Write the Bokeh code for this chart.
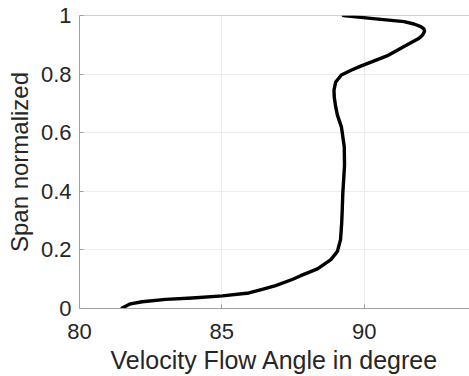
from bokeh.plotting import figure
from bokeh.models import Range1d, FixedTicker, ColumnDataSource, Span
from bokeh.embed import file_html
from bokeh.resources import INLINE

angle = [81.50, 81.79, 82.2, 83.03, 83.96, 85.02, 85.95, 86.42, 86.89, 87.47,
         87.77, 88.36, 88.83, 89.06, 89.17, 89.21, 89.23, 89.25, 89.28, 89.31,
         89.3, 89.2, 89.06, 89.0, 88.95, 88.94, 89.0, 89.2, 89.54, 89.9,
         90.24, 90.8, 91.4, 91.93, 92.06, 92.12, 92.1, 91.99, 91.75, 91.4, 90.23, 89.27]
span = [0.002, 0.016, 0.023, 0.031, 0.036, 0.043, 0.053, 0.065, 0.078, 0.099,
        0.112, 0.135, 0.167, 0.195, 0.235, 0.291, 0.337, 0.394, 0.44, 0.49,
        0.552, 0.62, 0.66, 0.688, 0.72, 0.745, 0.773, 0.797, 0.813, 0.828,
        0.841, 0.862, 0.894, 0.922, 0.934, 0.946, 0.954, 0.962, 0.971, 0.979, 0.99, 1.0]
x_ticks = [80, 85, 90]
y_ticks = [0, 0.2, 0.4, 0.6, 0.8, 1]
y_tick_labels = ["0", "0.2", "0.4", "0.6", "0.8", "1"]

FONT = "Liberation Sans"
TXT = "#262626"
AX = "#a0a0a0"

p = figure(width=469, height=376, output_backend="svg", toolbar_location=None,
           x_range=Range1d(80, 93.7), y_range=Range1d(0, 1),
           min_border_left=79, min_border_right=0, min_border_top=15, min_border_bottom=0)
p.outline_line_color = None
p.background_fill_color = "white"
p.border_fill_color = "white"

src = ColumnDataSource(data=dict(x=angle, y=span))
p.line("x", "y", source=src, line_color="black", line_width=3.4, line_join="round", line_cap="round")

for ax in (p.xaxis[0], p.yaxis[0]):
    ax.axis_line_color = AX
    ax.major_tick_line_color = AX
    ax.major_tick_in = 4
    ax.major_tick_out = 0
    ax.minor_tick_line_color = None
    ax.major_label_text_font = FONT
    ax.major_label_text_font_size = "22px"
    ax.major_label_text_color = TXT
    ax.axis_label_text_font = FONT
    ax.axis_label_text_font_style = "normal"
    ax.axis_label_text_color = TXT

p.xaxis.axis_label_text_font_size = "25px"
p.yaxis.axis_label_text_font_size = "24px"
p.xaxis.ticker = FixedTicker(ticks=x_ticks)
p.yaxis.ticker = FixedTicker(ticks=y_ticks)
p.yaxis.major_label_overrides = {t: l for t, l in zip(y_ticks, y_tick_labels)}
p.xaxis.axis_label = "Velocity Flow Angle in degree"
p.yaxis.axis_label = "Span normalized"
p.xaxis.major_label_standoff = 15
p.xaxis.axis_label_standoff = 4
p.yaxis.major_label_standoff = 8
p.yaxis.axis_label_standoff = 5

p.add_layout(Span(location=1, dimension="width", line_color=AX, line_width=1))

p.xgrid.grid_line_color = "#ececec"
p.ygrid.grid_line_color = "#ececec"
p.xgrid.ticker = FixedTicker(ticks=x_ticks)
p.ygrid.ticker = FixedTicker(ticks=y_ticks)

open("out.html", "w").write(file_html(p, INLINE))
